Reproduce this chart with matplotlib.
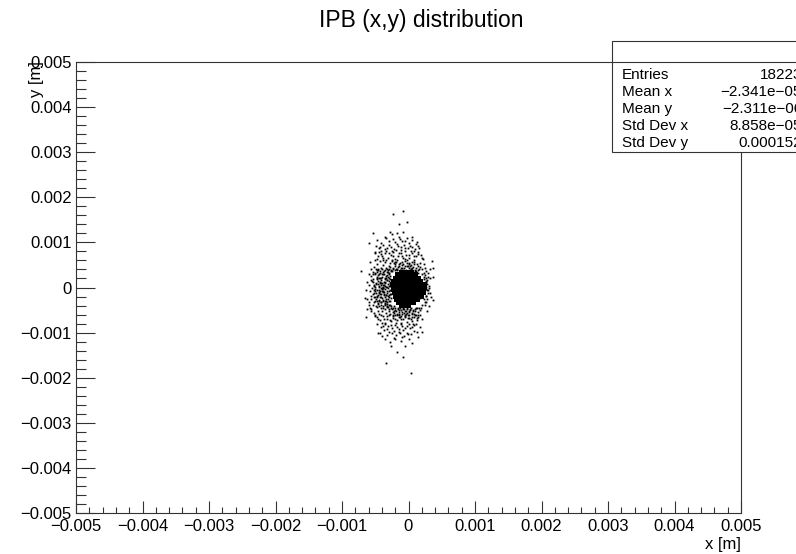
import matplotlib
matplotlib.use('Agg')
import matplotlib.pyplot as plt
import numpy as np
from matplotlib.patches import Rectangle
from matplotlib.lines import Line2D
from matplotlib.ticker import MultipleLocator

plt.rcParams['font.family'] = ['Liberation Sans', 'DejaVu Sans']

# beam spot positions at the IP, in micrometres
# sparse tails
tail_x_um = [-238, -78, -143, -28, -538, -278, -243, -178, -78, 48,
             -588, -338, -128, -53, 8, 163, -428, -503, 213, 348,
             248, 373, 363, -713, -568, -653, -618, -643, 373, 313,
             298, 323, 198, 173, -453, -393, -278, -268, -103, -53,
             -178, -78, -338, 33, -203, -3, -578, -518, -538, 123]
tail_y_um = [1622, 1696, 1408, 1452, 1201, 1223, 1179, 1201, 1238, 1127,
             979, 1090, 1075, 1038, 994, 883, 905, 794, 624, 587,
             425, 425, 225, 366, 166, -225, -262, -661, -277, 33,
             -55, -129, -979, -610, -1016, -1068, -1201, -1290, -1090, -1297,
             -1423, -1548, -1681, -1888, -1149, -1031, -462, -55, 351, -979]

# outer halo
halo_x_um = [-350, -250, -180, -120, -60, 20, 90, -300, -420, 130,
             -480, -400, -360, -310, -270, -230, -200, -160, -120, -90,
             -40, 10, 60, 110, 150, -440, -20, -250,
             -520, -470, -430, -410, -380, -350, -320, -300, -280, -250,
             -230, -210, -190, -170, -150, -130, -100, -80, -60, -30,
             0, 40, 90, 140, 180, -460, -340, 60,
             -560, -510, -480, -450, -430, -400, -380, -360, -340, -320,
             -300, -290, -270, -470, -530, -420, 200, 240, 270, -390,
             -350, -310,
             -600, -550, -520, -490, -470, -450, -430, -410, -390, -370,
             -350, -330, -310, -300, -280, -530, -460, -400, -360, -320,
             260, 280, 250, 230,
             -580, -540, -510, -490, -470, -450, -430, -410, -390, -370,
             -350, -330, -310, -290, -280, -560, -500, -440, -380, -340,
             260, 240, 270,
             -600, -560, -530, -500, -480, -460, -440, -420, -400, -380,
             -360, -340, -320, -300, -290, -280, -520, -470, -410, -350,
             230, 260, 200, 180,
             -560, -520, -490, -460, -440, -420, -400, -380, -360, -340,
             -320, -300, -280, -260, -240, -220, -200, -180, -160, -140,
             -120, -100, -80, -60, -40, -20, 0, 30, 60, 100,
             140, 190, -500, -270, 120,
             -480, -430, -390, -350, -320, -290, -260, -230, -200, -170,
             -140, -110, -80, -50, -20, 10, 50, 90, 130, -400,
             -190, 70,
             -380, -320, -260, -220, -170, -120, -80, -30, 20, 80,
             -300, -140,
             -200, -120, -40, 40, 100, 150,
             -470, -410, -360, -300, -240, -200, -150, -100, -30, 60, 110,
             -490, -440, -380, -330, -270, -220, -160, -110, -70, -10, 50, 100, 150,
             -510, -460, -420, -380, -340, -290, -240, -190, -140, -100, -50, 0, 40, 90, 140, 190,
             -500, -380, -180, -60, 80, 200,
             -510, -460, -410, -370, -330, -280, -240, -200, -150, -110, -60, -10, 40, 100, 150, 200,
             -470, -420, -360, -310, -250, -200, -150, -100, -60, 0, 50, 110, 170,
             -430, -370, -320, -250, -190, -130, -70, -20, 40, 90, 140,
             -350, -220, -120, 0, 60,
             -560, -590, -620, -640, -600, -570, -620, -580,
             330, 320, 340, 310, 280, 230]
halo_y_um = [850, 820, 960, 900, 870, 930, 810, 950, 820, 1000,
             640, 700, 760, 650, 720, 780, 640, 700, 760, 660,
             720, 650, 760, 690, 740, 780, 610, 610,
             450, 520, 580, 440, 500, 560, 420, 480, 540, 590,
             440, 510, 570, 420, 480, 550, 430, 520, 580, 470,
             550, 500, 560, 470, 540, 410, 600, 430,
             250, 330, 220, 290, 370, 240, 310, 390, 260, 340,
             210, 290, 370, 380, 300, 210, 300, 230, 360, 350,
             220, 380,
             60, 150, 40, 110, 180, 20, 90, 160, 50, 130,
             190, 10, 80, 150, 30, 120, 70, 110, 40, 170,
             120, 170, 60, 190,
             -80, -150, -30, -120, -190, -60, -140, -10, -90, -170,
             -40, -120, -190, -70, -150, -180, -70, -100, -20, -160,
             -40, -110, -180,
             -330, -250, -380, -290, -220, -350, -270, -390, -230, -310,
             -370, -250, -330, -210, -390, -290, -220, -300, -320, -290,
             -260, -330, -390, -230,
             -480, -560, -420, -510, -590, -450, -530, -410, -480, -570,
             -440, -510, -590, -460, -540, -420, -500, -580, -470, -540,
             -490, -580, -460, -530, -590, -480, -550, -500, -580, -470,
             -540, -450, -600, -410, -600,
             -650, -720, -640, -780, -690, -620, -750, -680, -620, -730,
             -660, -790, -700, -630, -760, -680, -740, -650, -720, -790,
             -790, -800,
             -850, -920, -830, -960, -880, -820, -940, -860, -900, -840,
             -990, -980,
             380, 390, 370, 400, 360, 330,
             1050, 990, 1110, 1030, 1080, 1000, 1120, 1040, 1090, 1050, 960,
             930, 880, 940, 870, 900, 860, 930, 840, 950, 880, 900, 860, 920,
             760, 700, 740, 660, 820, 770, 700, 830, 760, 700, 800, 730, 820, 700, 790, 720,
             620, 610, 600, 640, 620, 650,
             -640, -690, -610, -700, -630, -710, -620, -690, -620, -700, -660, -620, -690, -610, -660, -700,
             -820, -880, -810, -860, -900, -830, -910, -850, -900, -820, -880, -810, -870,
             -1000, -950, -1050, -1010, -1060, -1010, -1080, -1000, -1040, -960, -1100,
             -1150, -1130, -1180, -1150, -1220,
             420, 300, 120, -60, -380, -520, -470, 560,
             420, 200, -200, -420, -520, 520]

# inner halo hugging the core
inner_x_um = [-495, -470, -455, -440, -425, -410, -395, -380, -365, -350, -335, -320, -305, -290,
              -480, -465, -450, -435, -420, -405, -390, -375, -360, -345, -330, -315, -300, -285,
              -500, -485, -470, -455, -440, -425, -410, -395, -380, -365, -350, -335, -320, -305,
              -290, -275, -285, -270, -280, -265, -275, -290, -300, -310, -325, -340, -355, -370,
              -385, -400, -415, -430, -445, -460, -475, -490, -505, -515, -460, -445, -430, -415,
              -400, -385, -370, -355, -340, -325, -310, -295, -280, -270,
              -520, -530, -545, -510, -525,
              -240, -210, -180, -150, -120, -90, -60, -30, 0, 30, 60, 90, 120, 150, 180, 200,
              -225, -195, -165, -135, -105, -75, -45, -15, 15, 45, 75, 105, 135, 165,
              -255, -200, -100, 50, 110,
              -250, -225, -200, -175, -150, -125, -100, -75, -50, -25, 0, 25, 50, 75, 100, 125, 150, 170,
              -240, -215, -190, -165, -140, -115, -90, -65, -40, -15, 10, 35, 60, 85, 110, 135,
              -230, -130, -30, 70, 160,
              255, 270, 265, 285, 260, 275, 290, 262, 280, 250, 300, 310, 295, 240, 245]
inner_y_um = [420, 350, 270, 200, 130, 60, -10, -80, -150, -220, -290, -360, -430, -480,
              -430, -360, -290, -220, -150, -80, -10, 60, 130, 200, 270, 340, 410, 450,
              10, 80, -60, 150, -130, 220, -200, 290, -270, 360, -340, 430, -410, -20,
              40, -60, 110, -140, 190, -230, 260, -300, 320, -250, 170, -170, 90, -110,
              10, -40, 100, -70, 30, -170, 230, -250, 300, -330, 390, -400, 330, -320,
              400, -450, 300, -390, 20, -80, 240, -170, -390, 380,
              -120, 180, -20, -200, 60,
              420, 470, 380, 520, 440, 390, 480, 540, 430, 470, 390, 510, 440, 380, 460, 400,
              540, 400, 460, 390, 500, 430, 390, 470, 520, 410, 460, 380, 520, 420,
              360, 560, 560, 560, 360,
              -470, -520, -460, -610, -500, -450, -540, -480, -620, -460, -510, -470, -560, -490, -530, -460, -600, -500,
              -640, -570, -520, -460, -580, -640, -470, -570, -510, -680, -600, -450, -650, -580, -450, -670,
              -450, -660, -560, -520, -450,
              280, 210, 140, 70, 10, -60, -120, -190, -250, -320, 240, -20, 320, 320, -380]

# dense core
core_x_um = [-120, -60, 0, 50,
             -170, -110, -50, 10, 70, 120,
             -200, -140, -80, -20, 40, 100, 160,
             -230, -170, -110, -50, 10, 70, 130, 190,
             -250, -190, -130, -70, -10, 50, 110, 170, 220, 250,
             -240, -180, -120, -60, 0, 60, 120, 180, 230, 255,
             -230, -170, -110, -50, 10, 70, 130, 190, 240,
             -220, -160, -100, -40, 20, 80, 140, 200, 235,
             -200, -140, -80, -20, 40, 100, 160, 200,
             -190, -130, -70, -10, 50, 110, 150,
             -160, -100, -40, 20, 80,
             -110, -50, 10]
core_y_um = [350, 350, 350, 350,
             290, 290, 290, 290, 290, 290,
             220, 220, 220, 220, 220, 220, 220,
             150, 150, 150, 150, 150, 150, 150, 150,
             80, 80, 80, 80, 80, 80, 80, 80, 80, 80,
             10, 10, 10, 10, 10, 10, 10, 10, 10, 10,
             -60, -60, -60, -60, -60, -60, -60, -60, -60,
             -130, -130, -130, -130, -130, -130, -130, -130, -130,
             -200, -200, -200, -200, -200, -200, -200, -200,
             -270, -270, -270, -270, -270, -270, -270,
             -340, -340, -340, -340, -340,
             -410, -410, -410]

ticks = [-0.005, -0.004, -0.003, -0.002, -0.001, 0, 0.001, 0.002, 0.003, 0.004, 0.005]
tick_labels = ['\u22120.005', '\u22120.004', '\u22120.003', '\u22120.002', '\u22120.001', '0',
               '0.001', '0.002', '0.003', '0.004', '0.005']

stat_names = ['Entries', 'Mean x', 'Mean y', 'Std Dev x', 'Std Dev y']
stat_values = ['18223', '\u22122.341e\u221205', '\u22122.311e\u221206', '8.858e\u221205', '0.000152']

W, H = 796, 554
fig = plt.figure(figsize=(W / 100, H / 100), dpi=100)
ax = fig.add_axes([76 / W, 41 / H, 665 / W, 451 / H])

um = 1e-6
for xs, ys in [(tail_x_um, tail_y_um), (halo_x_um, halo_y_um), (inner_x_um, inner_y_um)]:
    ax.plot(np.array(xs) * um, np.array(ys) * um, ls='none', marker='s',
            ms=1.3, mew=0, color='black')
ax.plot(np.array(core_x_um) * um, np.array(core_y_um) * um, ls='none', marker='s',
        ms=3.5, mew=0, color='black')

ax.set_xlim(-0.005, 0.005)
ax.set_ylim(-0.005, 0.005)
ax.set_xticks(ticks)
ax.set_xticklabels(tick_labels)
ax.set_yticks(ticks)
ax.set_yticklabels(tick_labels)
ax.xaxis.set_minor_locator(MultipleLocator(0.0002))
ax.yaxis.set_minor_locator(MultipleLocator(0.0002))
ax.tick_params(which='both', direction='in', top=False, right=False,
               color='#333333', width=0.8, labelsize=12)
ax.tick_params(axis='x', which='major', length=8.4, pad=4.3)
ax.tick_params(axis='x', which='minor', length=4.3)
ax.tick_params(axis='y', which='major', length=14, pad=3)
ax.tick_params(axis='y', which='minor', length=7)
for s in ax.spines.values():
    s.set_color('#333333')
    s.set_linewidth(0.8)

fig.text(741 / W, 1 - 545 / H, 'x [m]', ha='right', va='center', fontsize=12)
fig.text(37 / W, 1 - 61 / H, 'y [m]', ha='center', va='top', rotation=90, fontsize=12)
fig.text(421 / W, 1 - 21 / H, 'IPB (x,y) distribution', ha='center', va='center', fontsize=16.5)

# stats box
box_top, box_bot, sep = 41, 152, 62
fig.patches.append(Rectangle((612 / W, 1 - box_bot / H), 300 / W, (box_bot - box_top) / H,
                             transform=fig.transFigure, facecolor='white',
                             edgecolor='#333333', lw=0.8))
fig.lines.append(Line2D([612 / W, 1], [1 - sep / H, 1 - sep / H], transform=fig.transFigure,
                        color='#333333', lw=0.8))
row_step = 17
for i, (name, val) in enumerate(zip(stat_names, stat_values)):
    yc = 1 - (75 + row_step * i) / H
    fig.text(622 / W, yc, name, ha='left', va='center', fontsize=11)
    fig.text(802 / W, yc, val, ha='right', va='center', fontsize=11)

fig.savefig('out.png', dpi=100)
